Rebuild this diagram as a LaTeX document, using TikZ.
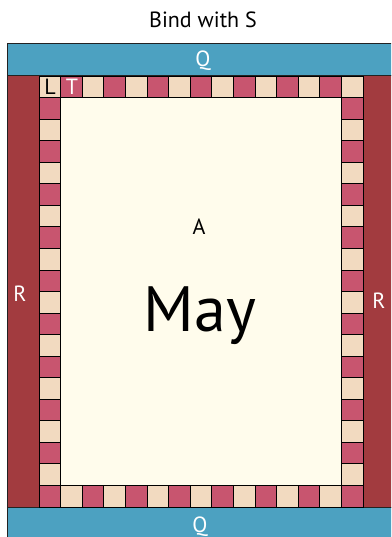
\documentclass[tikz,border=0pt]{standalone}
\usepackage{fontspec}
\setmainfont{PT Sans}
\definecolor{qblue}{HTML}{4CA1C1}
\definecolor{rred}{HTML}{A23B3F}
\definecolor{tbeige}{HTML}{F2DAC0}
\definecolor{tpink}{HTML}{C8556F}
\definecolor{cream}{HTML}{FFFCEC}
\definecolor{edge}{HTML}{222222}
\begin{document}
\begin{tikzpicture}[x=1pt,y=-1pt,
  bar/.style={draw=edge,line width=1pt},
  tile/.style={draw=black,line width=0.9pt},
  lbl/.style={font=\fontsize{22}{25}\selectfont,inner sep=0pt},
  wlbl/.style={lbl,text=white}]
\useasboundingbox (0,0) rectangle (391,537);
\clip (0,0) rectangle (391,537);
\fill[white] (0,0) rectangle (391,537);
% bars
\filldraw[bar,fill=qblue] (7,44) rectangle (398,76);
\filldraw[bar,fill=rred] (7,76) rectangle (39,507);
\filldraw[bar,fill=rred] (363,76) rectangle (398,507);
\filldraw[bar,fill=qblue] (7,507) rectangle (398,545);
% inner
\fill[cream] (39,76) rectangle (363,507);
% tiles
\def\tw{21.6}
\def\th{21.55}
\foreach \i in {0,...,14}{
  \foreach \j in {0,19}{
    \pgfmathtruncatemacro{\p}{mod(\i+\j,2)}
    \ifnum\p=0 \def\tc{tbeige}\else\def\tc{tpink}\fi
    \filldraw[tile,fill=\tc] (39+\i*\tw,76+\j*\th) rectangle ++(\tw,\th);
  }
}
\foreach \j in {1,...,18}{
  \foreach \i in {0,14}{
    \pgfmathtruncatemacro{\p}{mod(\i+\j,2)}
    \ifnum\p=0 \def\tc{tbeige}\else\def\tc{tpink}\fi
    \filldraw[tile,fill=\tc] (39+\i*\tw,76+\j*\th) rectangle ++(\tw,\th);
  }
}
% labels
\node[lbl] (bind) at (203,20) {Bind with S};
\node[wlbl] (qtop) at (203,61) {Q};
\node[wlbl] (qbot) at (200,527) {Q};
\node[wlbl] (rl) at (20,294) {R};
\node[wlbl] (rr) at (379,301) {R};
\node[lbl] (ll) at (50,87) {L};
\node[wlbl] (tt) at (72,87) {T};
\node[lbl] (a) at (199,227) {A};
\node[font=\fontsize{64}{72}\selectfont,inner sep=0pt,anchor=base] (may) at (200,331) {May};
\end{tikzpicture}
\end{document}
